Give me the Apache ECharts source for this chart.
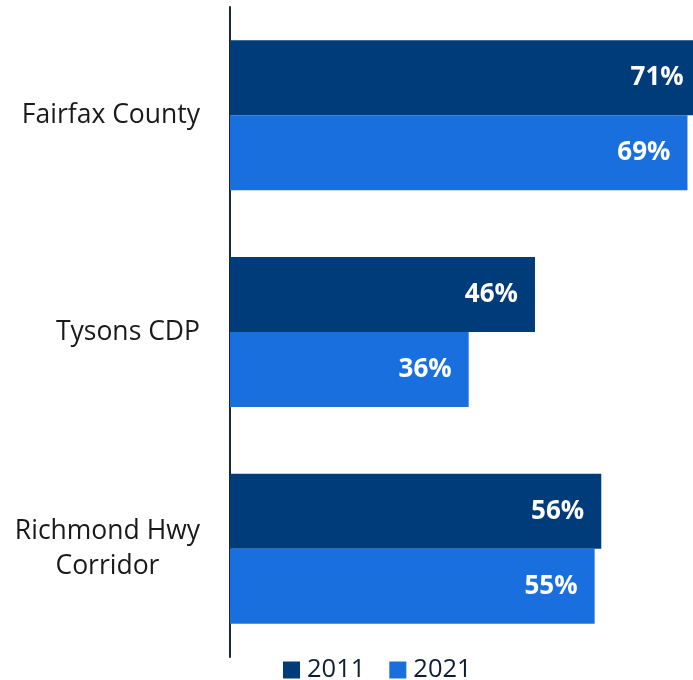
<!DOCTYPE html>
<html>
<head>
<meta charset="utf-8">
<script src="https://cdn.jsdelivr.net/npm/echarts@6/dist/echarts.min.js"></script>
<style>
  html, body { margin: 0; padding: 0; background: #fff; }
  #chart { width: 693px; height: 680px; }
</style>
</head>
<body>
<div id="chart"></div>
<script>
var categories = ['Fairfax County', 'Tysons CDP', 'Richmond Hwy\nCorridor'];
var seriesNames = ['2011', '2021'];
var values2011 = [71, 46, 56];
var values2021 = [69, 36, 55];

var chart = echarts.init(document.getElementById('chart'));

function barSeries(name, data, color) {
  return {
    name: name,
    type: 'bar',
    data: data,
    barWidth: 75,
    barGap: '0%',
    clip: false,
    itemStyle: { color: color },
    label: {
      show: true,
      position: 'insideRight',
      distance: 17,
      formatter: '{c}%',
      color: '#fff',
      fontFamily: 'Open Sans',
      fontWeight: 'bold',
      fontSize: 26
    }
  };
}

var option = {
  animation: false,
  grid: { left: 230, top: 7, width: 663, height: 650, outerBoundsMode: 'none', containLabel: false },
  legend: {
    data: seriesNames,
    left: 278,
    top: 652,
    icon: 'rect',
    itemWidth: 17,
    itemHeight: 17,
    itemGap: 24,
    textStyle: { color: '#0c1e33', fontFamily: 'Open Sans', fontSize: 25.5, padding: [0, 0, 0, 2] }
  },
  xAxis: {
    type: 'value',
    min: 0,
    max: 100,
    show: false
  },
  yAxis: {
    type: 'category',
    inverse: true,
    data: categories,
    axisLine: { show: true, lineStyle: { color: '#1c2833', width: 2 } },
    axisTick: { show: false },
    axisLabel: {
      margin: 30,
      align: 'right',
      color: '#1a1a1a',
      fontFamily: 'Open Sans',
      fontSize: 26.5,
      lineHeight: 35,
      formatter: function (v) {
        return v.split('\n').map(function (s) { return '{c|' + s + '}'; }).join('\n');
      },
      rich: { c: { align: 'center', fontFamily: 'Open Sans', fontSize: 26.5, lineHeight: 35, color: '#1a1a1a' } }
    }
  },
  series: [
    barSeries('2011', values2011, '#003b7a'),
    barSeries('2021', values2021, '#1a6fdf')
  ]
};

chart.setOption(option);
</script>
</body>
</html>
